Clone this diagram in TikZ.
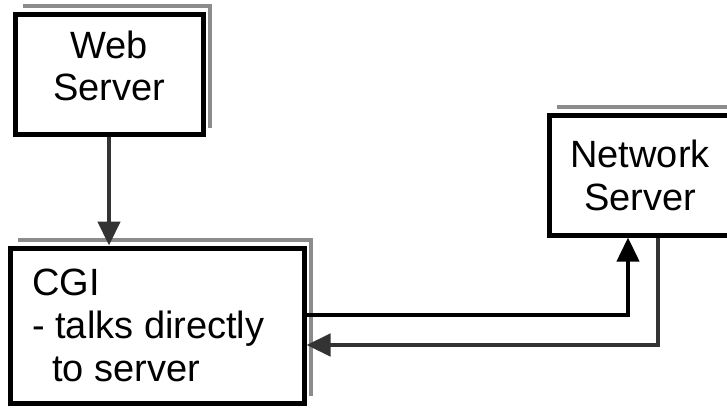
\documentclass[tikz,border=0pt]{standalone}
\usepackage{fontspec}
\setmainfont{Liberation Sans}
\usetikzlibrary{arrows.meta}
\begin{document}
\begin{tikzpicture}[x=1pt,y=-1pt,
  box/.style={draw=black, line width=5pt, fill=white, inner sep=0pt},
  shadowline/.style={draw=black!45, line width=3.5pt},
  lbl/.style={font=\fontsize{38}{43}\selectfont, inner sep=0pt, anchor=base},
  lbll/.style={font=\fontsize{38}{43}\selectfont, inner sep=0pt, anchor=base west},
  conn/.style={line width=4.5pt, -{Triangle[length=24pt,width=22pt]}}]
\useasboundingbox (0,0) rectangle (727,407);
\clip (0,0) rectangle (727,407);
\fill[white] (0,0) rectangle (727,407);
% shadows
\draw[shadowline] (23,6) -- (210,6) -- (210,128);
\draw[shadowline] (18,240) -- (311,240) -- (311,396);
\draw[shadowline] (557,107) -- (750,107);
% boxes
\node[box, minimum width=188pt, minimum height=120pt] (web) at (109,74) {};
\node[box, minimum width=294pt, minimum height=155pt] (cgi) at (157,325.5) {};
\node[box, minimum width=201pt, minimum height=120pt] (net) at (649.5,175) {};
% texts
\node[lbl] (t1) at (109,58) {Web};
\node[lbl] (t2) at (109,100) {Server};
\node[lbll] (t3) at (32,295) {CGI};
\node[lbll] (t4) at (32,338) {- talks directly};
\node[lbll] (t5) at (52,381) {to server};
\node[lbl] (t6) at (640,167) {Network};
\node[lbl] (t7) at (640,210) {Server};
% connectors
\coordinate (up) at (628,315);
\coordinate (dn) at (658,345);
\draw[conn, draw=black!80] (web.south) -- (web.south |- cgi.north);
\draw[conn, line width=4pt, draw=black] (cgi.east |- up) -| (net.south -| up);
\draw[conn, draw=black!80] (net.south -| dn) |- (cgi.east |- dn);
\end{tikzpicture}
\end{document}
